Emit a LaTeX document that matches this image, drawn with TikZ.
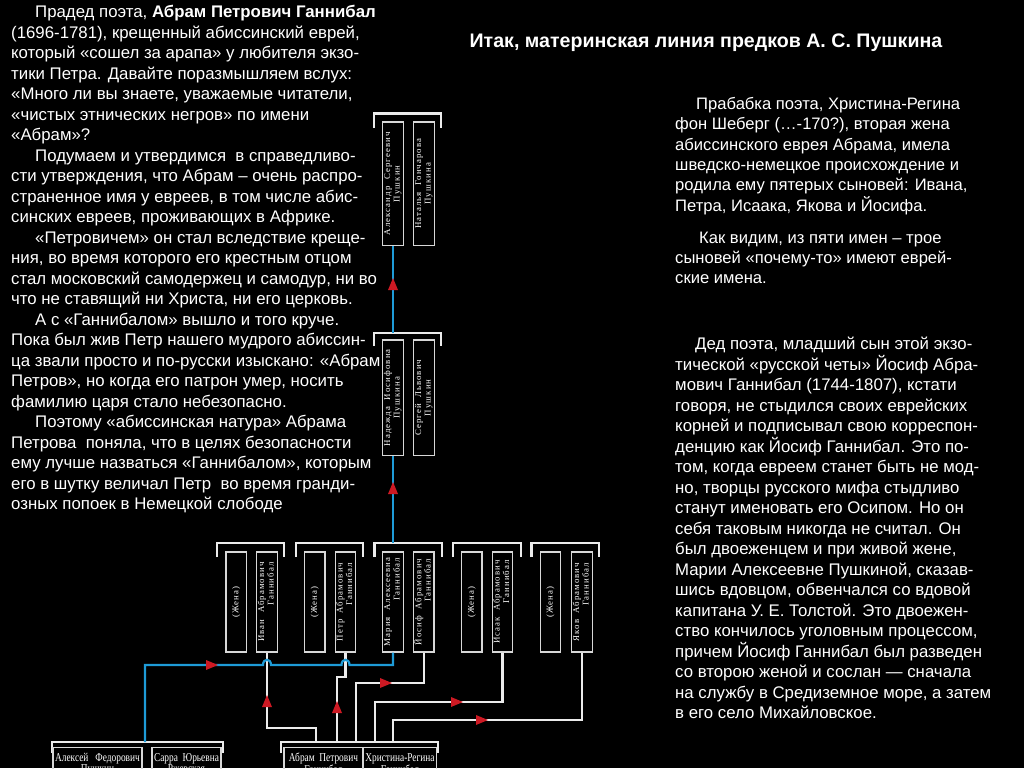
\documentclass[tikz,border=0pt]{standalone}
\usepackage{fontspec}
\setmainfont{Liberation Sans}
\newfontfamily\boxfont[LetterSpace=12]{Liberation Serif}
\newfontfamily\hboxfont[FakeStretch=0.78]{Liberation Serif}
\usetikzlibrary{arrows.meta,decorations.markings,calc}
\definecolor{lineblue}{RGB}{30,155,215}
\definecolor{arrowred}{RGB}{205,25,35}
\definecolor{boxgray}{RGB}{215,215,215}
\definecolor{brgray}{RGB}{235,235,235}
\newcommand\vtxtr[2]{\rotatebox{90}{\begin{tabular}{@{}r@{}}#1\\#2\end{tabular}}}
\newcommand\vtxtc[2]{\rotatebox{90}{\begin{tabular}{@{}c@{}}#1\\#2\end{tabular}}}
\tikzset{
  txt/.style={text=white, inner sep=0pt, align=left, anchor=north west,
    font=\fontsize{16.8}{20.5}\selectfont},
  vbox/.style={draw=boxgray, line width=1.3pt, inner sep=0pt, minimum width=20.5pt,
    text=white, font=\boxfont\fontsize{8.8}{9.3}\selectfont},
  hbox/.style={draw=boxgray, line width=1.3pt, inner xsep=2pt, inner ysep=6pt,
    anchor=north, text=white, align=center, font=\hboxfont\fontsize{12}{10}\selectfont},
  bracket/.style={draw=brgray, line width=2.2pt},
  wconn/.style={draw=brgray, line width=2.2pt},
  bconn/.style={draw=lineblue, line width=2.2pt},
  redmark/.style={postaction={decorate, decoration={markings,
    mark=at position #1 with {\fill[arrowred] (5pt,0pt) -- (-7pt,5pt) -- (-7pt,-5pt) -- cycle;}}}},
}
\begin{document}
\begin{tikzpicture}[x=1pt,y=-1pt]
\useasboundingbox (0,0) rectangle (1024,768);
\fill[black] (0,0) rectangle (1024,768);
\clip (0,0) rectangle (1024,768);

% ---------- texts ----------
\node[txt] (lefttext) at (11,3.5) {\rule{0pt}{14pt}\hspace*{24pt}Прадед поэта, \textbf{Абрам Петрович Ганнибал}\\
(1696-1781), крещенный абиссинский еврей,\\
который «сошел за арапа» у любителя экзо-\\
тики Петра. Давайте поразмышляем вслух:\\
«Много ли вы знаете, уважаемые читатели,\\
«чистых этнических негров» по имени\\
«Абрам»?\\
\hspace*{24pt}Подумаем и утвердимся\ \ в справедливо-\\
сти утверждения, что Абрам – очень распро-\\
страненное имя у евреев, в том числе абис-\\
синских евреев, проживающих в Африке.\\
\hspace*{24pt}«Петровичем» он стал вследствие креще-\\
ния, во время которого его крестным отцом\\
стал московский самодержец и самодур, ни во\\
что не ставящий ни Христа, ни его церковь.\\
\hspace*{24pt}А с «Ганнибалом» вышло и того круче.\\
Пока был жив Петр нашего мудрого абиссин-\\
ца звали просто и по-русски изыскано: «Абрам\\
Петров», но когда его патрон умер, носить\\
фамилию царя стало небезопасно.\\
\hspace*{24pt}Поэтому «абиссинская натура» Абрама\\
Петрова\ \ поняла, что в целях безопасности\\
ему лучше назваться «Ганнибалом», которым\\
его в шутку величал Петр\ \ во время гранди-\\
озных попоек в Немецкой слободе};

\node[text=white, anchor=base, inner sep=0pt, font=\fontsize{19.6}{22}\selectfont\bfseries] (title) at (706,48)
  {Итак, материнская линия предков А. С. Пушкина};

\node[txt, font=\fontsize{16.6}{20.4}\selectfont] (right1) at (675,95) {\rule{0pt}{14pt}\hspace*{21pt}Прабабка поэта, Христина-Регина\\
фон Шеберг (…-170?), вторая жена\\
абиссинского еврея Абрама, имела\\
шведско-немецкое происхождение и\\
родила ему пятерых сыновей: Ивана,\\
Петра, Исаака, Якова и Йосифа.};

\node[txt, font=\fontsize{16.6}{20.2}\selectfont] (right2) at (675,229.3) {\rule{0pt}{14pt}\hspace*{24pt}Как видим, из пяти имен – трое\\
сыновей «почему-то» имеют еврей-\\
ские имена.};

\node[txt, font=\fontsize{16.8}{20.5}\selectfont] (right3) at (675,335.3) {\rule{0pt}{14pt}\hspace*{20pt}Дед поэта, младший сын этой экзо-\\
тической «русской четы» Йосиф Абра-\\
мович Ганнибал (1744-1807), кстати\\
говоря, не стыдился своих еврейских\\
корней и подписывал свою корреспон-\\
денцию как Йосиф Ганнибал. Это по-\\
том, когда евреем станет быть не мод-\\
но, творцы русского мифа стыдливо\\
станут именовать его Осипом. Но он\\
себя таковым никогда не считал. Он\\
был двоеженцем и при живой жене,\\
Марии Алексеевне Пушкиной, сказав-\\
шись вдовцом, обвенчался со вдовой\\
капитана У. Е. Толстой. Это двоежен-\\
ство кончилось уголовным процессом,\\
причем Йосиф Ганнибал был разведен\\
со второю женой и сослан — сначала\\
на службу в Средиземное море, а затем\\
в его село Михайловское.};

% ---------- brackets ----------
\draw[bracket] (374,128) -- (374,113.5) -- (441,113.5) -- (441,128);
\draw[bracket] (374,346) -- (374,333) -- (441,333) -- (441,346);
\draw[bracket] (217,557) -- (217,543) -- (284,543) -- (284,557);
\draw[bracket] (296,557) -- (296,543) -- (363,543) -- (363,557);
\draw[bracket] (374.5,557) -- (374.5,543) -- (442,543) -- (442,557);
\draw[bracket] (453,557) -- (453,543) -- (521,543) -- (521,557);
\draw[bracket] (531.5,557) -- (531.5,543) -- (599,543) -- (599,557);
\draw[bracket] (52,753) -- (52,742) -- (223,742) -- (223,753);
\draw[bracket] (281,753) -- (281,742) -- (438,742) -- (438,753);

\coordinate (cNS) at (393,333);
\coordinate (cMJ) at (393,543);
\coordinate (cAS) at (145,742);
\coordinate (cI) at (316,742);
\coordinate (cP) at (337,742);
\coordinate (cJ) at (356,742);
\coordinate (cIs) at (375,742);
\coordinate (cJa) at (393,742);

% ---------- boxes ----------
\node[vbox, minimum height=123.5pt] (aleks) at (393,183.75) {\vtxtc{Александр~~Сергеевич}{Пушкин}};
\node[vbox, minimum height=123.5pt] (natalia) at (424,183.75) {\vtxtc{Наталья~~Гончарова}{Пушкина}};
\node[vbox, minimum height=115.5pt] (nadezhda) at (393,397.75) {\vtxtc{Надежда~~Иосифовна}{Пушкина}};
\node[vbox, minimum height=115.5pt] (sergey) at (424,397.75) {\vtxtc{Сергей~~Львович}{Пушкин}};

\node[vbox, minimum height=100pt] (wife1) at (236.25,602) {\rotatebox{90}{(Жена)}};
\node[vbox, minimum height=100pt] (ivan) at (267,602) {\vtxtr{Иван~~Абрамович}{Ганнибал}};
\node[vbox, minimum height=100pt] (wife2) at (314.75,602) {\rotatebox{90}{(Жена)}};
\node[vbox, minimum height=100pt] (petr) at (345.5,602) {\vtxtr{Петр~~Абрамович}{Ганнибал}};
\node[vbox, minimum height=100pt] (maria) at (393,602) {\vtxtr{Мария~~Алексеевна}{Ганнибал}};
\node[vbox, minimum height=100pt] (josif) at (423.75,602) {\vtxtr{Йосиф~~Абрамович}{Ганнибал}};
\node[vbox, minimum height=100pt] (wife4) at (471.75,602) {\rotatebox{90}{(Жена)}};
\node[vbox, minimum height=100pt] (isaak) at (502.5,602) {\vtxtr{Исаак~~Абрамович}{Ганнибал}};
\node[vbox, minimum height=100pt] (wife5) at (550.5,602) {\rotatebox{90}{(Жена)}};
\node[vbox, minimum height=100pt] (jakov) at (582,602) {\vtxtr{Яков~~Абрамович}{Ганнибал}};

\node[hbox, minimum width=83pt] (alexey) at (97.5,746.5) {Алексей~~~Федорович\\Пушкин};
\node[hbox, minimum width=69pt] (sarra) at (186.5,746.5) {Сарра~~Юрьевна\\Ржевская};
\node[hbox, minimum width=79pt] (abram) at (323.5,746.5) {Абрам~~Петрович\\Ганнибал};
\node[hbox, minimum width=68pt] (christina) at (400,746.5) {Христина-Регина\\Ганнибал};

% ---------- connectors ----------
\draw[wconn, redmark=91pt] (cI) -- (316,728) -| (ivan.south);
\draw[wconn, redmark=36pt] (cP) -- (337,677) -| (petr.south);
\draw[wconn, redmark=90pt] (cJ) -- (356,683) -| (josif.south);
\draw[wconn, redmark=123pt] (cIs) -- (375,702) -| (isaak.south);
\draw[wconn, redmark=112pt] (cJa) -- (393,720) -| (jakov.south);

\draw[bconn, redmark=50pt] (cNS) -- (aleks.south);
\draw[bconn, redmark=56pt] (cMJ) -- (nadezhda.south);
\draw[bconn, redmark=145pt] (cAS) -- (145,665) -- (263,665)
  .. controls (263,658) and (271,658) .. (271,665) -- (341.5,665)
  .. controls (341.5,658) and (349.5,658) .. (349.5,665) -| (maria.south);
\end{tikzpicture}
\end{document}
